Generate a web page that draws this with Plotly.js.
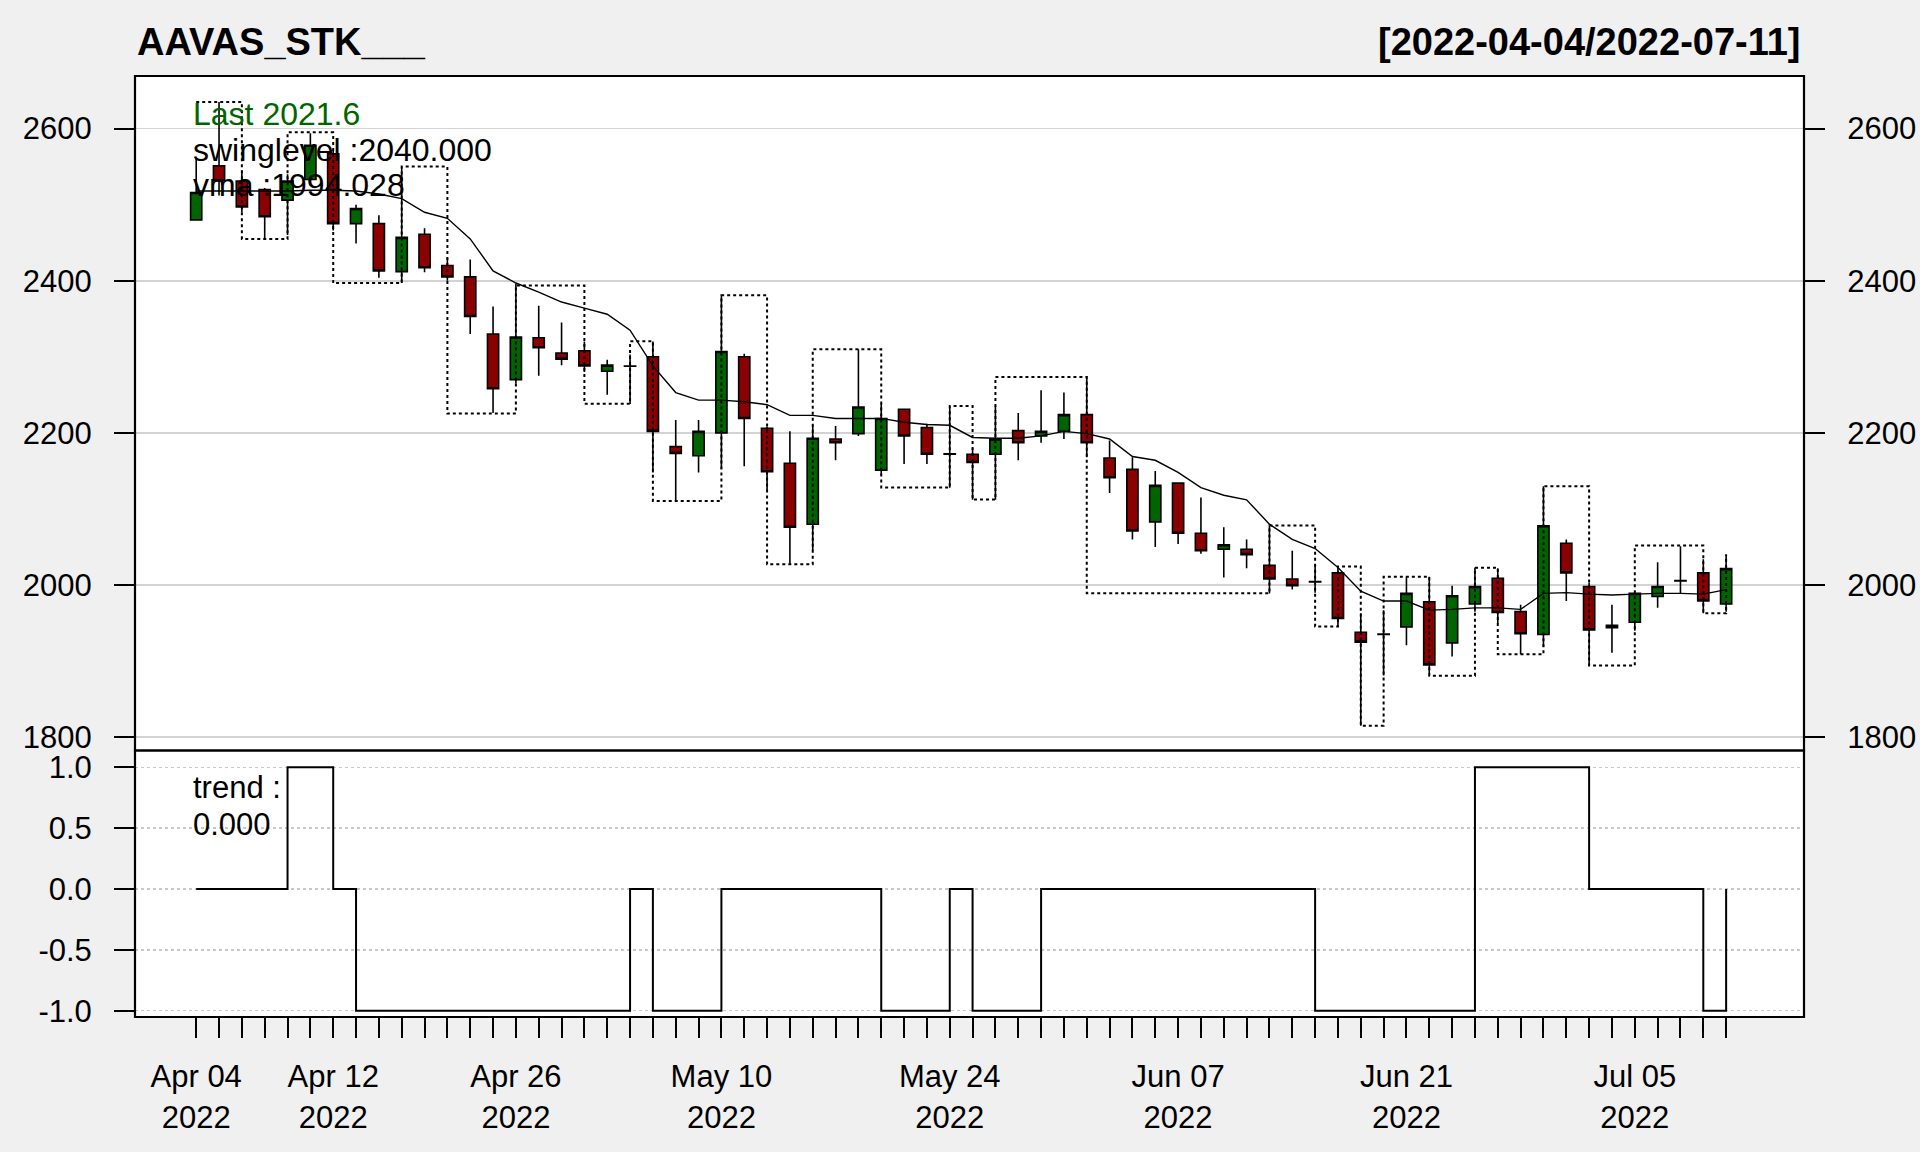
<!DOCTYPE html>
<html>
<head>
<meta charset="utf-8">
<script src="https://cdn.plot.ly/plotly-3.0.1.min.js"></script>
<style>
  html, body { margin: 0; padding: 0; background: #F0F0F0; }
  #chart { width: 1920px; height: 1152px; }
</style>
</head>
<body>
<div id="chart"></div>
<script>
// ---------------- DATA ----------------
const symbol = "AAVAS_STK___";
const dates = [
  "2022-04-04","2022-04-05","2022-04-06","2022-04-07","2022-04-08","2022-04-11","2022-04-12","2022-04-13",
  "2022-04-18","2022-04-19","2022-04-20","2022-04-21","2022-04-22","2022-04-25","2022-04-26","2022-04-27",
  "2022-04-28","2022-04-29","2022-05-02","2022-05-04","2022-05-05","2022-05-06","2022-05-09","2022-05-10",
  "2022-05-11","2022-05-12","2022-05-13","2022-05-16","2022-05-17","2022-05-18","2022-05-19","2022-05-20",
  "2022-05-23","2022-05-24","2022-05-25","2022-05-26","2022-05-27","2022-05-30","2022-05-31","2022-06-01",
  "2022-06-02","2022-06-03","2022-06-06","2022-06-07","2022-06-08","2022-06-09","2022-06-10","2022-06-13",
  "2022-06-14","2022-06-15","2022-06-16","2022-06-17","2022-06-20","2022-06-21","2022-06-22","2022-06-23",
  "2022-06-24","2022-06-27","2022-06-28","2022-06-29","2022-06-30","2022-07-01","2022-07-04","2022-07-05",
  "2022-07-06","2022-07-07","2022-07-08","2022-07-11"
];
const labelDates = ["2022-04-04","2022-04-12","2022-04-26","2022-05-10","2022-05-24","2022-06-07","2022-06-21","2022-07-05"];
const monthNames = ["Jan","Feb","Mar","Apr","May","Jun","Jul","Aug","Sep","Oct","Nov","Dec"];

const openP  = [2480,2551,2531,2520,2506,2533,2567,2475,2475,2412,2461,2420,2405,2330,2270,2325,2305,2308,2281,2288,
                2300,2182,2170,2200,2300,2206,2160,2080,2192,2199,2151,2231,2207,2172.5,2172,2172,2203,2196,2202,2224,
                2167,2152,2083,2134,2068,2047,2047,2026,2008,2004.5,2016,1938,1935.5,1945,1978,1924,1975,2009,1965,1935,
                2055,1998,1944,1951,1985,2006,2016,1975];
const highP  = [2560,2635,2545,2522,2540,2594,2572,2500,2486,2549,2469,2430,2428,2366,2396,2367,2345,2320,2296,2303,
                2320,2217,2217,2381,2304,2208,2202,2210,2209,2310,2238,2231,2212,2235,2180,2235,2226,2256,2253,2274,
                2190,2168,2150,2134,2115,2076,2060,2078,2045,2026,2025,1963,1967,2011,2011,1999,2023,2022,1974,2130,
                2060,2003,1974,1992,2030,2051,2034,2040];
const lowP   = [2479,2512,2490,2455,2460,2525,2466,2449,2404,2397,2411,2400,2330,2226,2265,2275,2289,2280,2250,2238,
                2148,2111,2148,2153,2156,2124,2027,2045,2164,2196,2145,2159,2159,2128,2112,2112,2164,2187,2192,2168,
                2121,2060,2050,2054,2041,2010,2022,1989,1994,1990,1945,1815,1881,1921,1882,1906,1965,1950,1909,1919,
                1979,1894,1911,1940,1970,1989,1963,1965];
const closeP = [2516,2531,2497,2484,2531,2578,2475,2495,2413,2457,2417,2405,2353,2258,2326,2312,2297,2288,2289,2287.5,
                2202,2173,2202,2307,2219,2149,2076,2193,2187,2234,2219,2196,2172,2172,2161,2192,2187,2202,2224,2187,
                2141,2071,2131,2068,2045,2053,2040,2008,1999,2004,1956,1925,1935,1989,1895,1986,1998,1964,1936,2078,
                2016,1941,1947,1989,1998,2005.5,1979,2021.6];
const vma    = [2518,2518,2518,2518,2518,2519,2519,2518,2514,2508,2490,2482,2455,2413,2397,2385,2372,2364,2356,2335,
                2288,2253,2243,2243,2241,2237,2223,2223,2219,2219,2219,2214,2211,2210,2194,2193,2193,2196,2202,2199,
                2192,2169,2164,2148,2128,2118,2112,2080,2060,2048,2023,1992,1979,1979,1967,1968,1970,1970,1968,1989,
                1990,1988,1987,1988,1989,1989,1988,1994.028];
const swingLevel = [2635,2635,2455,2455,2595,2595,2397,2397,2397,2550,2550,2225.5,2225.5,2225.5,2393.7,2393.7,2393.7,2238.4,2238.4,2320.4,
                2110.6,2110.6,2110.6,2380.8,2380.8,2027.4,2027.4,2309.9,2309.9,2309.9,2128.2,2128.2,2128.2,2235.4,2112.4,2273.5,2273.5,2273.5,2273.5,1989.3,
                1989.3,1989.3,1989.3,1989.3,1989.3,1989.3,1989.3,2078.4,2078.4,1945.4,2024.5,1815.2,2011,2011,1880.9,1880.9,2022.7,1909,1909,2130,
                2130,1894.3,1894.3,2052,2052,2052,1962.9,2040];
const trend = [0,0,0,0,1,1,0,-1,-1,-1,-1,-1,-1,-1,-1,-1,-1,-1,-1,0,
               -1,-1,-1,0,0,0,0,0,0,0,-1,-1,-1,0,-1,-1,-1,0,0,0,
               0,0,0,0,0,0,0,0,0,-1,-1,-1,-1,-1,-1,-1,1,1,1,1,
               1,0,0,0,0,0,-1,0];
const priceTicks = [1800, 2000, 2200, 2400, 2600];
const trendTicks = [-1, -0.5, 0, 0.5, 1];

// ---------------- BUILD ----------------
const idx = dates.map((d, i) => i);
const last = dates.length - 1;
const tickText = dates.map(d => {
  if (!labelDates.includes(d)) return "";
  const [y, m, dd] = d.split("-");
  return monthNames[parseInt(m, 10) - 1] + " " + dd + "<br>" + y;
});

const GREEN = "#006400", RED = "#8B0000";
const FONT = "Liberation Sans, Arial, Helvetica, sans-serif";
const split = 0.2832;

const traces = [
  {
    type: "candlestick", x: idx, open: openP, high: highP, low: lowP, close: closeP,
    xaxis: "x", yaxis: "y",
    increasing: { line: { color: "black", width: 1.6 }, fillcolor: GREEN },
    decreasing: { line: { color: "black", width: 1.6 }, fillcolor: RED },
    whiskerwidth: 0, hoverinfo: "skip", showlegend: false
  },
  {
    type: "scatter", mode: "lines", x: idx, y: vma, xaxis: "x", yaxis: "y",
    line: { color: "black", width: 1.4 }, hoverinfo: "skip", showlegend: false
  },
  {
    type: "scatter", mode: "lines", x: idx, y: swingLevel, xaxis: "x", yaxis: "y",
    line: { color: "black", width: 2, dash: "3px,3px", shape: "hv" }, hoverinfo: "skip", showlegend: false
  },
  {
    type: "scatter", mode: "lines", x: idx, y: vma, xaxis: "x", yaxis: "y3",
    line: { color: "rgba(0,0,0,0)", width: 0 }, hoverinfo: "skip", showlegend: false
  },
  {
    type: "scatter", mode: "lines", x: idx, y: trend, xaxis: "x", yaxis: "y2",
    line: { color: "black", width: 2, shape: "hv" }, hoverinfo: "skip", showlegend: false
  }
];

const tickFont = { family: FONT, size: 31, color: "black" };
const yRange = [1782.5, 2669.1];

const layout = {
  width: 1920, height: 1152,
  paper_bgcolor: "#F0F0F0", plot_bgcolor: "white",
  margin: { l: 135, r: 116, t: 76, b: 135 },
  showlegend: false,
  font: { family: FONT, color: "black" },
  xaxis: {
    domain: [0, 1], anchor: "y2", range: [-2.68, 70.41],
    tickmode: "array", tickvals: idx, ticktext: tickText,
    ticks: "outside", ticklen: 20, tickwidth: 2, tickcolor: "black",
    ticklabelstandoff: 12,
    tickfont: tickFont, showgrid: false, zeroline: false, showline: false,
    rangeslider: { visible: false }, fixedrange: true
  },
  yaxis: {
    domain: [split, 1], anchor: "x", range: yRange,
    tickmode: "array", tickvals: priceTicks, ticktext: priceTicks.map(String),
    ticks: "outside", ticklen: 20, tickwidth: 2, tickcolor: "black",
    ticklabelstandoff: 16, tickfont: tickFont,
    showgrid: true, gridcolor: "#D3D3D3", gridwidth: 1.6,
    zeroline: false, showline: false, fixedrange: true
  },
  yaxis3: {
    overlaying: "y", side: "right", anchor: "x", range: yRange,
    tickmode: "array", tickvals: priceTicks, ticktext: priceTicks.map(String),
    ticks: "outside", ticklen: 20, tickwidth: 2, tickcolor: "black",
    ticklabelstandoff: 16, tickfont: tickFont,
    showgrid: false, zeroline: false, showline: false, fixedrange: true
  },
  yaxis2: {
    domain: [0, split], anchor: "x", range: [-1.052, 1.138],
    tickmode: "array", tickvals: trendTicks, ticktext: trendTicks.map(v => v.toFixed(1)),
    ticks: "outside", ticklen: 20, tickwidth: 2, tickcolor: "black",
    ticklabelstandoff: 16, tickfont: tickFont,
    showgrid: true, gridcolor: "#C8C8C8", gridwidth: 1.4, griddash: "dot",
    zeroline: false, showline: false, fixedrange: true
  },
  shapes: [
    { type: "rect", xref: "paper", yref: "paper", x0: 0, x1: 1, y0: split, y1: 1,
      line: { color: "black", width: 2.2 }, fillcolor: "rgba(0,0,0,0)" },
    { type: "rect", xref: "paper", yref: "paper", x0: 0, x1: 1, y0: 0, y1: split,
      line: { color: "black", width: 2.2 }, fillcolor: "rgba(0,0,0,0)" }
  ],
  annotations: [
    { xref: "paper", yref: "paper", x: 0, y: 1.0358, xanchor: "left", yanchor: "middle",
      text: "<b>" + symbol + "</b>", showarrow: false, font: { family: FONT, size: 38, color: "black" } },
    { xref: "paper", yref: "paper", x: 0.9995, y: 1.0358, xanchor: "right", yanchor: "middle",
      text: "<b>[" + dates[0] + "/" + dates[last] + "]</b>", showarrow: false, font: { family: FONT, size: 38, color: "black" } },
    { xref: "paper", yref: "paper", x: 0.0335, y: 0.9597, xanchor: "left", yanchor: "middle",
      text: "Last " + closeP[last].toFixed(1), showarrow: false, font: { family: FONT, size: 32, color: GREEN } },
    { xref: "paper", yref: "paper", x: 0.0335, y: 0.9218, xanchor: "left", yanchor: "middle",
      text: "swinglevel :" + swingLevel[last].toFixed(3), showarrow: false, font: { family: FONT, size: 32, color: "black" } },
    { xref: "paper", yref: "paper", x: 0.0335, y: 0.8843, xanchor: "left", yanchor: "middle",
      text: "vma :" + vma[last].toFixed(3), showarrow: false, font: { family: FONT, size: 32, color: "black" } },
    { xref: "paper", yref: "paper", x: 0.0335, y: 0.2442, xanchor: "left", yanchor: "middle",
      text: "trend :", showarrow: false, font: { family: FONT, size: 31, color: "black" } },
    { xref: "paper", yref: "paper", x: 0.0335, y: 0.2045, xanchor: "left", yanchor: "middle",
      text: trend[last].toFixed(3), showarrow: false, font: { family: FONT, size: 31, color: "black" } }
  ]
};

Plotly.newPlot("chart", traces, layout, { displayModeBar: false, staticPlot: true });
</script>
</body>
</html>
